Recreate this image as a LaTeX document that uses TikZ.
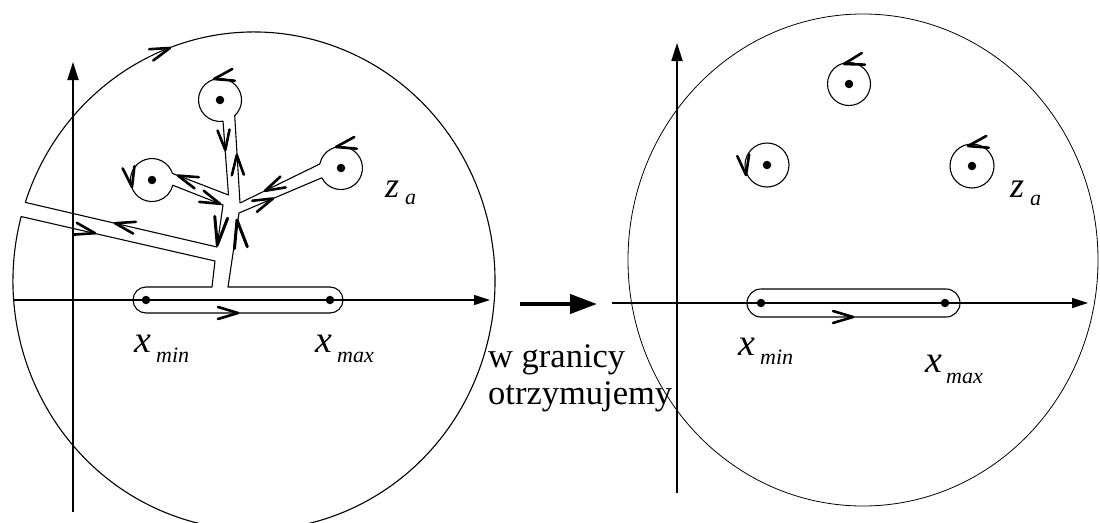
\documentclass[tikz,border=0pt]{standalone}
\usepackage{fontspec}
\setmainfont{Liberation Serif}
\usetikzlibrary{arrows.meta}
\tikzset{
  rim/.style={line width=0.8pt},
  contour/.style={line width=1.1pt, line join=round},
  vaxis/.style={line width=1.8pt, -{Triangle[length=18pt,width=11pt]}},
  haxis/.style={line width=1.1pt, -{Triangle[length=16pt,width=10pt]}},
  bigarrow/.style={line width=4pt, -{Triangle[length=27pt,width=19pt]}},
  dot/.style={circle, fill=black, inner sep=0pt, minimum size=8.5pt},
  chev/.pic={\draw[line width=2.6pt, line join=round, line cap=round] (-20,-6) -- (0,0) -- (-20,6);},
  chevbig/.pic={\draw[line width=3pt, line join=round, line cap=round] (-28,-6.5) -- (0,0) -- (-28,6.5);},
  mainlet/.style={font=\fontsize{38}{38}\selectfont\itshape, inner sep=0pt, anchor=base west},
  sublet/.style={font=\fontsize{22}{22}\selectfont\itshape, inner sep=0pt, anchor=base west},
  zlet/.style={font=\fontsize{36}{36}\selectfont\itshape, inner sep=0pt, anchor=base west},
  caption/.style={font=\fontsize{34.5}{37}\selectfont, inner sep=0pt, anchor=base west, align=left}
}
\begin{document}
\begin{tikzpicture}[x=1pt, y=-1pt]
\useasboundingbox (0,0) rectangle (1100,522);
\fill[white] (0,0) rectangle (1100,522);

% ---------- left panel ----------
\draw[vaxis] (73,512) -- (73,62);
\draw[haxis] (13,300) -- (490,300);

\draw[contour]
  (25.3,202.4) arc[start angle=198.4, end angle=555, x radius=241, y radius=249]
  -- (215,261) -- (212,287) -- (146,287)
  arc[start angle=-90, end angle=-270, radius=13]
  -- (330,313)
  arc[start angle=90, end angle=-90, radius=13]
  -- (228,287) -- (239,213) -- (321.8,177.8)
  arc[start angle=153, end angle=-169, radius=21.5]
  -- (240,203) -- (234.7,115.7)
  arc[start angle=47, end angle=-278, radius=21.5]
  -- (228.5,195) -- (172.4,173.4)
  arc[start angle=-18, end angle=-346, radius=21.5]
  -- (223,205) -- (217,247) -- cycle;

\node[dot] (lt) at (220,100) {};
\node[dot] (ll) at (152,180) {};
\node[dot] (lr) at (341,168) {};
\node[dot] (lxmin) at (146,300) {};
\node[dot] (lxmax) at (330,300) {};

% arrows on the left contour
\pic[rotate=20]  at (170,48)    {chev};
\pic[rotate=167] at (115,223.2) {chev};
\pic[rotate=-13] at (95,233.2)  {chev};
\pic[rotate=192] at (214,79)    {chev};
\pic[rotate=-85] at (225.3,150) {chev};
\pic[rotate=93]  at (236.8,155) {chev};
\pic[rotate=-80] at (132,187)   {chev};
\pic[rotate=159] at (178,175.6) {chev};
\pic[rotate=-22] at (220,203.8) {chev};
\pic[rotate=206] at (265,190.8) {chev};
\pic[rotate=23]  at (273,198.5) {chev};
\pic[rotate=192] at (336,147)   {chev};
\pic[rotate=-98] at (217.3,245) {chevbig};
\pic[rotate=98]  at (237,220)   {chevbig};
\pic[rotate=0]   at (238,313)   {chev};

\node[zlet] (lz) at (385,197) {z};
\node[sublet] (lza) at (405,204) {a};
\node[mainlet] (lx1) at (134,352) {x};
\node[sublet] (lx1s) at (156,362) {min};
\node[mainlet] (lx2) at (315,352) {x};
\node[sublet] (lx2s) at (337,362) {max};

% ---------- middle ----------
\draw[bigarrow] (520,304) -- (597,304);
\node[caption] (cap) at (488,404) {w granicy\\otrzymujemy};

% ---------- right panel ----------
\draw[rim] (863,260) ellipse[x radius=235, y radius=246];
\draw[vaxis] (677,493) -- (677,43);
\draw[haxis] (612,303) -- (1088,303);

\draw[contour] (761,289) -- (946,289)
  arc[start angle=-90, end angle=90, radius=14]
  -- (761,317)
  arc[start angle=90, end angle=270, radius=14] -- cycle;
\draw[contour] (849,84) circle[radius=21.5];
\draw[contour] (767,165) circle[radius=22];
\draw[contour] (972,166) circle[radius=22];

\node[dot] (rt) at (849,84) {};
\node[dot] (rl) at (767,165) {};
\node[dot] (rr) at (972,166) {};
\node[dot] (rxmin) at (761,303) {};
\node[dot] (rxmax) at (945,303) {};

\pic[rotate=195] at (844,64)  {chev};
\pic[rotate=-82] at (746,175) {chev};
\pic[rotate=192] at (968,146) {chev};
\pic[rotate=0]   at (853,317) {chev};

\node[zlet] (rz) at (1010,197) {z};
\node[sublet] (rza) at (1030,205) {a};
\node[mainlet] (rx1) at (738,355) {x};
\node[sublet] (rx1s) at (760,364) {min};
\node[mainlet] (rx2) at (925,372) {x};
\node[sublet] (rx2s) at (946,383) {max};
\end{tikzpicture}
\end{document}
